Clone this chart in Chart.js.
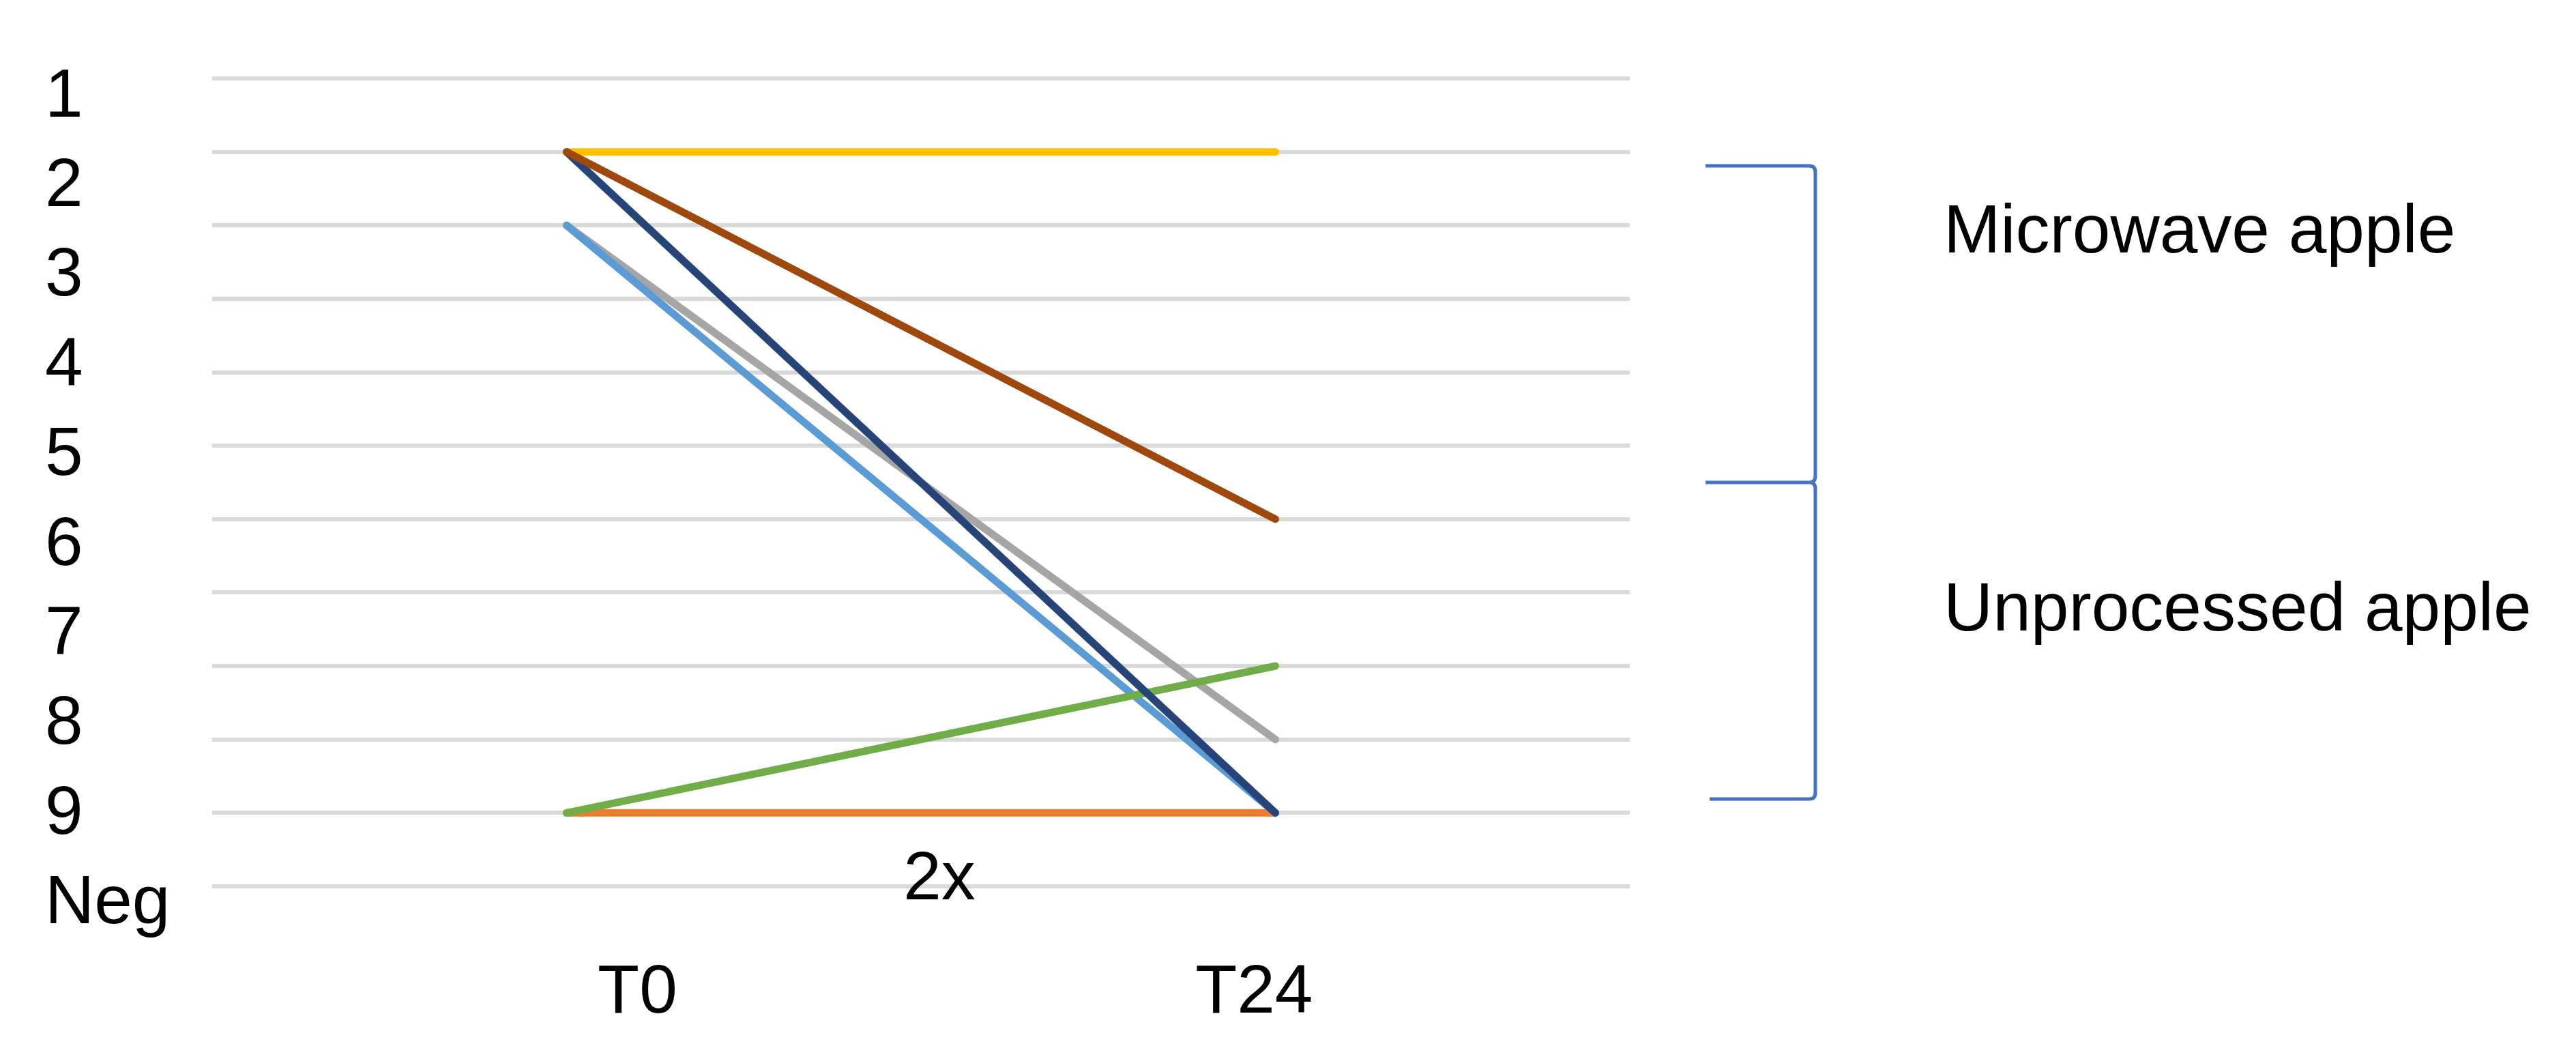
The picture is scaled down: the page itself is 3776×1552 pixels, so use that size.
<!DOCTYPE html>
<html>
<head>
<meta charset="utf-8">
<script src="https://cdn.jsdelivr.net/npm/chart.js@4.4.0/dist/chart.umd.min.js"></script>
<style>
  html, body { margin: 0; padding: 0; background: #fff; }
  canvas { display: block; }
</style>
</head>
<body>
<canvas id="chart" width="3776" height="1552"></canvas>
<script>
// x positions of the two time points, and where their labels sit
const timepoints = [0, 1];
const xLabels = ['T0', 'T24'];
const xLabelPos = [0.1, 0.97];

// left-hand label column
const yLabels = ['1', '2', '3', '4', '5', '6', '7', '8', '9', 'Neg'];

// one line per sample (value = gridline counted from the bottom)
const seriesBrown = [10, 5];
const seriesNavy = [10, 1];
const seriesGreen = [1, 3];
const seriesLightBlue = [9, 1];
const seriesYellow = [10, 10];
const seriesGray = [9, 2];
const seriesOrange = [1, 1];

const groupLabels = ['Microwave apple', 'Unprocessed apple'];
const noteLabel = '2x';

const FONT = '"Liberation Sans", Arial, sans-serif';

function pts(values) {
  return values.map((v, i) => ({ x: timepoints[i], y: v }));
}

function line(values, color) {
  return {
    data: pts(values),
    borderColor: color,
    backgroundColor: color,
    borderWidth: 11,
    borderCapStyle: 'round',
    pointRadius: 0,
    tension: 0,
    fill: false
  };
}

// brace + text annotations on the right
const annotations = {
  id: 'annotations',
  afterDraw(chart) {
    const ctx = chart.ctx;
    ctx.save();
    ctx.strokeStyle = '#4472C4';
    ctx.lineWidth = 5;
    ctx.beginPath();
    ctx.moveTo(2500, 243);
    ctx.lineTo(2652, 243);
    ctx.quadraticCurveTo(2661, 243, 2661, 252);
    ctx.lineTo(2661, 698);
    ctx.quadraticCurveTo(2661, 707, 2652, 707);
    ctx.lineTo(2500, 707);
    ctx.moveTo(2500, 707);
    ctx.lineTo(2652, 707);
    ctx.quadraticCurveTo(2661, 707, 2661, 716);
    ctx.lineTo(2661, 1162);
    ctx.quadraticCurveTo(2661, 1171, 2652, 1171);
    ctx.lineTo(2506, 1171);
    ctx.stroke();

    ctx.fillStyle = '#000';
    ctx.font = '100px ' + FONT;
    ctx.textBaseline = 'alphabetic';
    ctx.textAlign = 'left';
    ctx.fillText(groupLabels[0], 2849, 370);
    ctx.fillText(groupLabels[1], 2849, 924);
    ctx.textAlign = 'center';
    ctx.fillText(noteLabel, 1377, 1318);
    ctx.restore();
  }
};

Chart.defaults.font.family = FONT;
Chart.defaults.color = '#000';

new Chart(document.getElementById('chart'), {
  type: 'line',
  data: {
    datasets: [
      line(seriesBrown, '#9E480E'),
      line(seriesNavy, '#264478'),
      line(seriesGreen, '#70AD47'),
      line(seriesLightBlue, '#5B9BD5'),
      line(seriesYellow, '#FFC000'),
      line(seriesGray, '#A5A5A5'),
      line(seriesOrange, '#ED7D31')
    ]
  },
  options: {
    responsive: false,
    animation: false,
    devicePixelRatio: 1,
    layout: { padding: { left: 66, top: 115, right: 1387, bottom: 0 } },
    plugins: { legend: { display: false }, tooltip: { enabled: false } },
    scales: {
      x: {
        type: 'linear',
        min: -0.5,
        max: 1.5,
        grid: { display: false, drawTicks: false },
        border: { display: false },
        afterBuildTicks: s => { s.ticks = xLabelPos.map(v => ({ value: v })); },
        afterFit: s => { s.height = 253; },
        ticks: {
          autoSkip: false,
          maxRotation: 0,
          padding: 97,
          font: { size: 100 },
          color: '#000',
          callback: (v, i) => xLabels[i]
        }
      },
      y: {
        type: 'linear',
        position: 'left',
        min: 0,
        max: 11,
        grid: { color: '#d9d9d9', lineWidth: 6, drawTicks: false },
        border: { display: false },
        ticks: { display: false, stepSize: 1 },
        afterFit: s => { s.width = 0; }
      },
      y2: {
        type: 'linear',
        position: 'left',
        reverse: true,
        min: 0.787,
        max: 9.798,
        grid: { display: false, drawTicks: false },
        border: { display: false },
        afterBuildTicks: s => { s.ticks = yLabels.map((_, i) => ({ value: i + 1 })); },
        afterFit: s => { s.width = 245; },
        ticks: {
          autoSkip: false,
          crossAlign: 'far',
          padding: 0,
          font: { size: 100 },
          color: '#000',
          callback: (v, i) => yLabels[i]
        }
      }
    }
  },
  plugins: [annotations]
});
</script>
</body>
</html>
